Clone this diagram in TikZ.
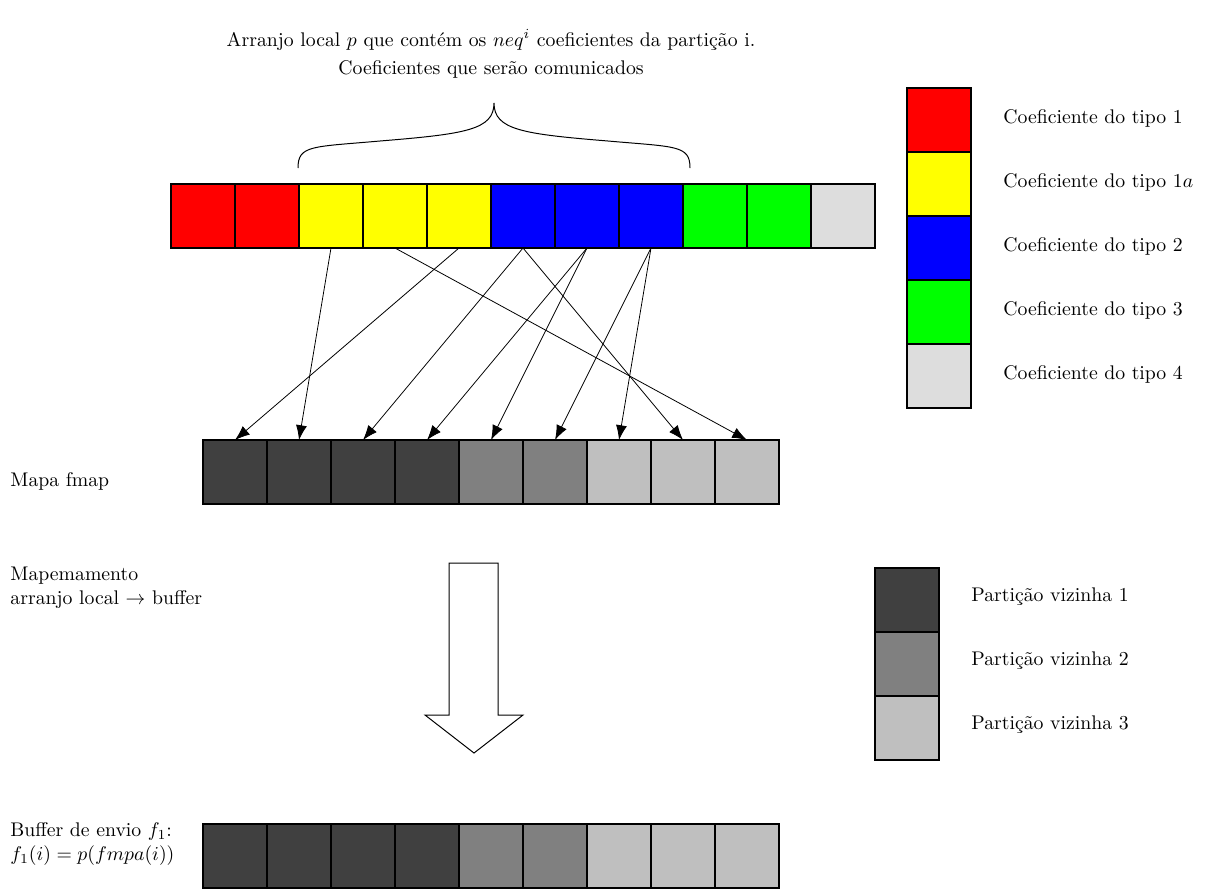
\documentclass[tikz,border=0pt]{standalone}
\usepackage{fontspec}
\usetikzlibrary{arrows.meta}
\definecolor{cred}{RGB}{255,0,0}
\definecolor{cyellow}{RGB}{255,255,0}
\definecolor{cblue}{RGB}{0,0,255}
\definecolor{cgreen}{RGB}{0,255,0}
\definecolor{typefour}{HTML}{DDDDDD}
\definecolor{partone}{HTML}{404040}
\definecolor{parttwo}{HTML}{808080}
\definecolor{partthree}{HTML}{BFBFBF}
\begin{document}
\begin{tikzpicture}[x=0.5063pt,y=-0.5063pt,
  cell/.style={draw=black, line width=0.6pt, minimum width=32.4pt, minimum height=32.4pt, inner sep=0pt, outer sep=0pt},
  maparrow/.style={-{Latex[length=7.5pt,width=5.6pt]}, line width=0.4pt},
  lbl/.style={anchor=west, inner sep=0pt, font=\normalsize},
  bigarrow/.style={draw=black, fill=white, line width=0.5pt, line join=miter}]
\useasboundingbox (0,0) rectangle (1207,888);
% top texts
\node[inner sep=0pt] (title) at (491,40) {Arranjo local $p$ que contém os $neq^i$ coeficientes da partição i.};
\node[inner sep=0pt] (comm) at (491,69) {Coeficientes que serão comunicados};
% top array
\foreach \i/\c in {1/cred,2/cred,3/cyellow,4/cyellow,5/cyellow,6/cblue,7/cblue,8/cblue,9/cgreen,10/cgreen,11/typefour}{
  \node[cell, fill=\c] (t\i) at ({203+64*(\i-1)},216) {};
}
% brace
\coordinate (bleft) at (298,168);
\coordinate (btip) at (494,103);
\coordinate (bright) at (690,168);
\draw[line width=0.5pt] (bleft) .. controls (298,145) and (312,147) .. (380,141) .. controls (465,134) and (494,130) .. (btip)
  .. controls (494,130) and (523,134) .. (608,141) .. controls (676,147) and (690,145) .. (bright);
% legend 1
\foreach \k/\c/\t in {0/cred/1,1/cyellow/1$a$,2/cblue/2,3/cgreen/3,4/typefour/4}{
  \node[cell, fill=\c] (lg\k) at (939,{120+64*\k}) {};
  \node[lbl] (lgt\k) at (1003,{118+64*\k}) {Coeficiente do tipo \t};
}
% fmap array and buffer
\foreach \j/\c in {1/partone,2/partone,3/partone,4/partone,5/parttwo,6/parttwo,7/partthree,8/partthree,9/partthree}{
  \node[cell, fill=\c] (f\j) at ({235+64*(\j-1)},472) {};
  \node[cell, fill=\c] (b\j) at ({235+64*(\j-1)},856) {};
}
% mapping arrows
\foreach \s/\d in {3/2,4/9,5/1,6/3,6/8,7/4,7/5,8/6,8/7}{
  \draw[maparrow] (t\s.south) -- (f\d.north);
}
% labels left
\node[lbl] (fmaplbl) at (10,481) {Mapa fmap};
\node[lbl, align=left] (maplbl) at (10,588) {Mapemamento\\arranjo local $\rightarrow$ buffer};
\node[lbl, align=left] (buflbl) at (10,844) {Buffer de envio $f_1$:\\$f_1(i) = p(fmpa(i))$};
% big arrow
\draw[bigarrow] (449,563) -- (498,563) -- (498,715) -- (523,715) -- (474,753) -- (425,715) -- (449,715) -- cycle;
% legend 2
\foreach \k/\c in {0/partone,1/parttwo,2/partthree}{
  \node[cell, fill=\c] (pg\k) at (907,{600+64*\k}) {};
  \node[lbl] (pgt\k) at (971,{597+64*\k}) {Partição vizinha \the\numexpr\k+1\relax};
}
\end{tikzpicture}
\end{document}
